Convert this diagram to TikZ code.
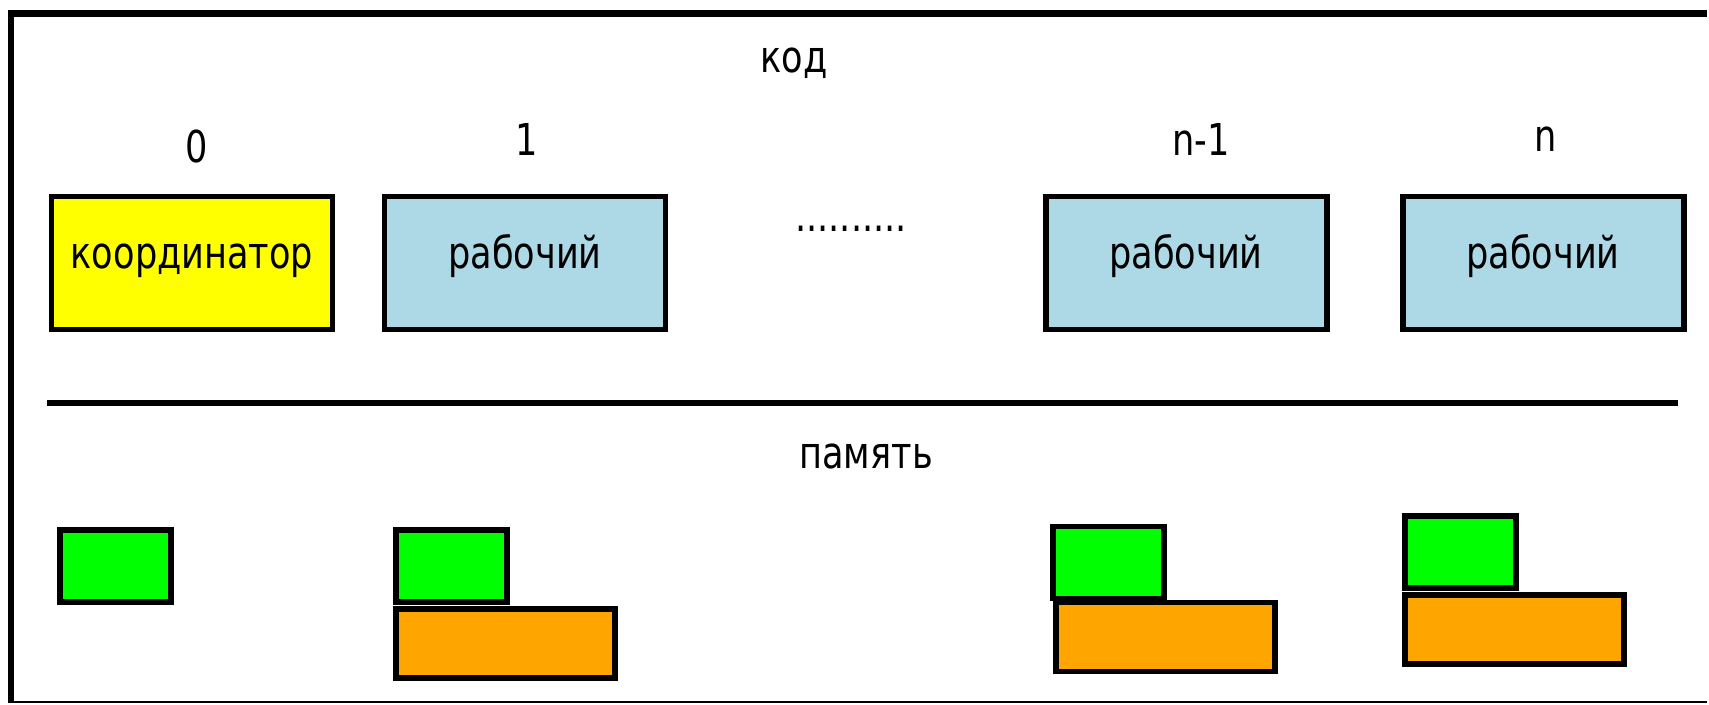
\documentclass[tikz,border=0pt]{standalone}
\usepackage{fontspec}
\setmainfont{DejaVu Sans}[FakeStretch=0.8]
\usepackage{xcolor}
\usepackage{tikz}
\usetikzlibrary{positioning}
\definecolor{coord}{HTML}{FFFF00}
\definecolor{worker}{HTML}{ADD8E6}
\definecolor{local}{HTML}{00FF00}
\definecolor{shared}{HTML}{FFA500}

\tikzset{
  proc/.style={draw, line width=1.7pt, inner sep=0pt, outer sep=0pt,
    minimum width=2.81cm, minimum height=1.33cm, text height=0.2cm, text depth=0.1cm},
  locmem/.style={draw, fill=local, line width=1.7pt, anchor=north west, inner sep=0pt,
    minimum width=1.11cm, minimum height=0.72cm},
  shmem/.style={draw, fill=shared, line width=1.7pt, anchor=north west, inner sep=0pt,
    minimum width=2.19cm, minimum height=0.69cm},
  lbl/.style={anchor=base, inner sep=0pt}
}

\begin{document}
\begin{tikzpicture}[yscale=-1, font=\fontsize{12.5}{15}\selectfont]
\useasboundingbox[fill=white] (0,0) rectangle (17.09,7.04);
% outer frame, open to the right
\draw[line width=1.8pt] (17.07,0.135) -- (0.11,0.135) -- (0.11,7.025);
\draw[line width=0.4pt] (0.11,7.02) -- (17.07,7.02);
% code part
\node[lbl] (code) at (7.94,0.72) {код};
\node[proc, fill=coord] (p0) at (1.92,2.63) {координатор};
\node[proc, fill=worker] (p1) at (5.25,2.63) {рабочий};
\node[proc, fill=worker] (pn1) at (11.86,2.63) {рабочий};
\node[proc, fill=worker] (pn) at (15.43,2.63) {рабочий};
\node[lbl] (id0) at (1.97,1.62) {0};
\node[lbl] (id1) at (5.27,1.55) {1};
\node[lbl] (idn1) at (12.01,1.55) {n-1};
\node[lbl] (idn) at (15.46,1.51) {n};
\node[lbl] (dots) at (8.51,2.31) {..........};
% separator
\draw[line width=1.7pt] (0.47,4.03) -- (16.78,4.03);
% memory part
\node[lbl] (mem) at (8.66,4.68) {память};
\node[locmem] (g0) at (0.57,5.27) {};
\node[shmem] (o1) at (3.93,6.06) {};
\node[locmem] (g1) at (3.93,5.27) {};
\node[shmem] (on1) at (10.53,5.995) {};
\node[locmem] (gn1) at (10.50,5.235) {};
\node[shmem] (on) at (14.02,5.92) {};
\node[locmem] (gn) at (14.02,5.13) {};
\end{tikzpicture}
\end{document}
